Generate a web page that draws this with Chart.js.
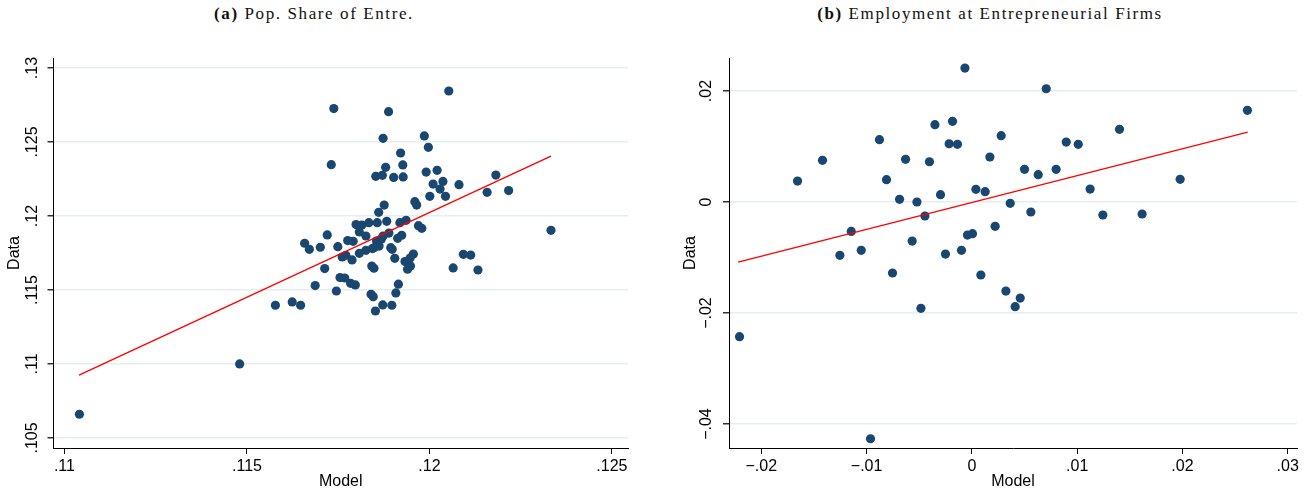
<!DOCTYPE html>
<html>
<head>
<meta charset="utf-8">
<script src="https://cdn.jsdelivr.net/npm/chart.js@4"></script>
<style>
body { margin: 0; width: 1308px; height: 490px; background: #fff; position: relative; overflow: hidden; }
canvas { position: absolute; top: 0; }
.ttl { position: absolute; top: 4px; font-family: "Liberation Serif", serif; font-size: 17px; letter-spacing: 1.6px; white-space: nowrap; transform: translateX(-50%); color: #111; }
</style>
</head>
<body>
<div class="ttl" style="left:314px"><b>(a)</b> Pop. Share of Entre.</div>
<div class="ttl" style="left:990px"><b>(b)</b> Employment at Entrepreneurial Firms</div>
<canvas id="chartA" width="650" height="490" style="left:0"></canvas>
<canvas id="chartB" width="658" height="490" style="left:650px"></canvas>
<script>
// panel (a): population share of entrepreneurs
var modelA = [.11041, .1148, .12053, .11738, .11888, .11873, .11986, .11997, .11921, .11731,
  .1188, .11927, .11853, .11871, .11902, .11928, .11991, .12021, .1201, .12037,
  .12029, .12001, .12044, .12081, .12182, .12158, .12217, .12333, .1196, .11965,
  .11876, .11861, .11799, .11815, .11834, .11857, .11883, .11919, .11936, .1197,
  .11979, .1172, .11808, .11826, .11889, .11924, .11913, .11658, .11671, .11701,
  .11749, .11776, .11791, .11855, .11862, .11894, .11898, .11905, .11956, .11947,
  .11933, .1194, .11948, .11761, .11771, .11788, .11844, .11826, .11808, .11842,
  .11848, .11713, .11755, .11768, .11784, .11797, .11687, .11745, .11915, .11908,
  .1184, .11846, .11872, .11897, .11852, .11578, .11624, .11647, .12065, .12093,
  .12113, .12133, .11849, .11868, .11873];
var dataA = [.1066, .1100, .12845, .12726, .12705, .12525, .12541, .12464, .12426, .12347,
  .12329, .12345, .12268, .12275, .12261, .12264, .12297, .12309, .12216, .12234,
  .12182, .12133, .12133, .12212, .12277, .1216, .12172, .11903, .12097, .12074,
  .12074, .12025, .11942, .11939, .11955, .11955, .11964, .11955, .11971, .11935,
  .11917, .11872, .11892, .11865, .11885, .1187, .11849, .11816, .11775, .11789,
  .11793, .11834, .11829, .11831, .11797, .11786, .11775, .11714, .11743, .11716,
  .11692, .1164, .11662, .11723, .11734, .11703, .1178, .11768, .11748, .11662,
  .11647, .11645, .11584, .11581, .11545, .11534, .1153, .11493, .11539, .1148,
  .11471, .11455, .11399, .11397, .11358, .11397, .11419, .11397, .11649, .11741,
  .11736, .11635, .11787, .11843, .11865];
var fitAx = [.1104, .12333];
var fitAy = [.10924, .12405];
var xTicksA = [.11, .115, .12, .125];
var xLabelsA = ['.11', '.115', '.12', '.125'];
var yTicksA = [.105, .11, .115, .12, .125, .13];
var yLabelsA = ['.105', '.11', '.115', '.12', '.125', '.13'];

// panel (b): employment at entrepreneurial firms
var modelB = [-.00066, -.00878, -.01419, -.01656, -.00351, -.00184, -.00216, -.00137, .00278, -.0063,
  -.00403, .00171, -.00811, .00038, .00126, -.00298, -.00687, -.00522, .00364, -.00446,
  -.01146, .00221, -.00042, .00006, -.00567, -.01254, -.01051, -.00251, -.00099, -.00754,
  .00085, .00323, .00411, .00459, -.00484, -.02207, -.00963, .00706, .02617, .01402,
  .00896, .0101, .005, .0063, .008, .01978, .01123, .0056, .01244, .01617];
var dataB = [.02414, .01123, .00751, .00378, .01393, .01454, .0105, .0104, .01195, .00769,
  .00726, .00811, .00402, .00228, .00186, .00132, .00048, 0, -.00024, -.00252,
  -.00529, -.00438, -.00595, -.00571, -.00703, -.0096, -.0087, -.00937, -.0087, -.01279,
  -.01315, -.01604, -.01886, -.0173, -.01916, -.02427, -.04265, .02041, .01652, .0131,
  .01081, .0104, .00589, .00492, .00589, .00409, .00234, -.0018, -.00234, -.00216];
var fitBx = [-.0222, .0262];
var fitBy = [-.01081, .01261];
var xTicksB = [-.02, -.01, 0, .01, .02, .03];
var xLabelsB = ['\u2212.02', '\u2212.01', '0', '.01', '.02', '.03'];
var yTicksB = [-.04, -.02, 0, .02];
var yLabelsB = ['\u2212.04', '\u2212.02', '0', '.02'];

function pts(xs, ys) {
  return xs.map(function (x, i) { return { x: x, y: ys[i] }; });
}

function makeChart(id, xs, ys, fx, fy, xr, yr, xT, xL, yT, yL, axisW, yTitlePad, yTickPad, padRight) {
  var tickFont = { family: '"Liberation Sans", Arial, sans-serif', size: 16 };
  var titleFont = { family: '"Liberation Sans", Arial, sans-serif', size: 16, lineHeight: 1 };
  return new Chart(document.getElementById(id).getContext('2d'), {
    type: 'scatter',
    data: {
      datasets: [{
        data: pts(fx, fy),
        showLine: true,
        borderColor: '#ff0000',
        borderWidth: 1.3,
        pointRadius: 0
      }, {
        data: pts(xs, ys),
        backgroundColor: '#1a476f',
        borderWidth: 0,
        pointRadius: 4.6
      }]
    },
    options: {
      responsive: false,
      animation: false,
      devicePixelRatio: 1,
      layout: { padding: { top: 58, right: padRight, left: 0, bottom: 0 } },
      plugins: { legend: { display: false }, tooltip: { enabled: false } },
      scales: {
        x: {
          type: 'linear',
          min: xr[0], max: xr[1],
          border: { color: '#000', width: 1 },
          grid: { drawOnChartArea: false, tickColor: '#000', tickLength: 6 },
          afterBuildTicks: function (s) { s.ticks = xT.map(function (v) { return { value: v }; }); },
          afterFit: function (s) { s.height = 42; },
          ticks: {
            font: tickFont, color: '#000', padding: 3, maxRotation: 0,
            callback: function (v, i) { return xL[i]; }
          },
          title: { display: true, text: 'Model', font: titleFont, color: '#000', padding: { top: 0, bottom: 0 } }
        },
        y: {
          type: 'linear',
          min: yr[0], max: yr[1],
          border: { color: '#000', width: 1 },
          grid: { color: '#e7eef1', lineWidth: 1.5, tickColor: '#333', tickLength: 6 },
          afterBuildTicks: function (s) { s.ticks = yT.map(function (v) { return { value: v }; }); },
          afterFit: function (s) { s.width = axisW; },
          ticks: {
            font: tickFont, color: '#000', padding: yTickPad,
            minRotation: 90, maxRotation: 90, crossAlign: 'center',
            callback: function (v, i) { return yL[i]; }
          },
          title: { display: true, text: 'Data', font: titleFont, color: '#000', padding: { top: yTitlePad, bottom: 0 } }
        }
      }
    }
  });
}

makeChart('chartA', modelA, dataA, fitAx, fitAy, [.1097, .12544], [.10432, .13068],
  xTicksA, xLabelsA, yTicksA, yLabelsA, 53.5, 7, -1, 22);
makeChart('chartB', modelB, dataB, fitBx, fitBy, [-.02307, .03088], [-.04432, .02595],
  xTicksB, xLabelsB, yTicksB, yLabelsB, 79, 33, 0.7, 11);
</script>
</body>
</html>
